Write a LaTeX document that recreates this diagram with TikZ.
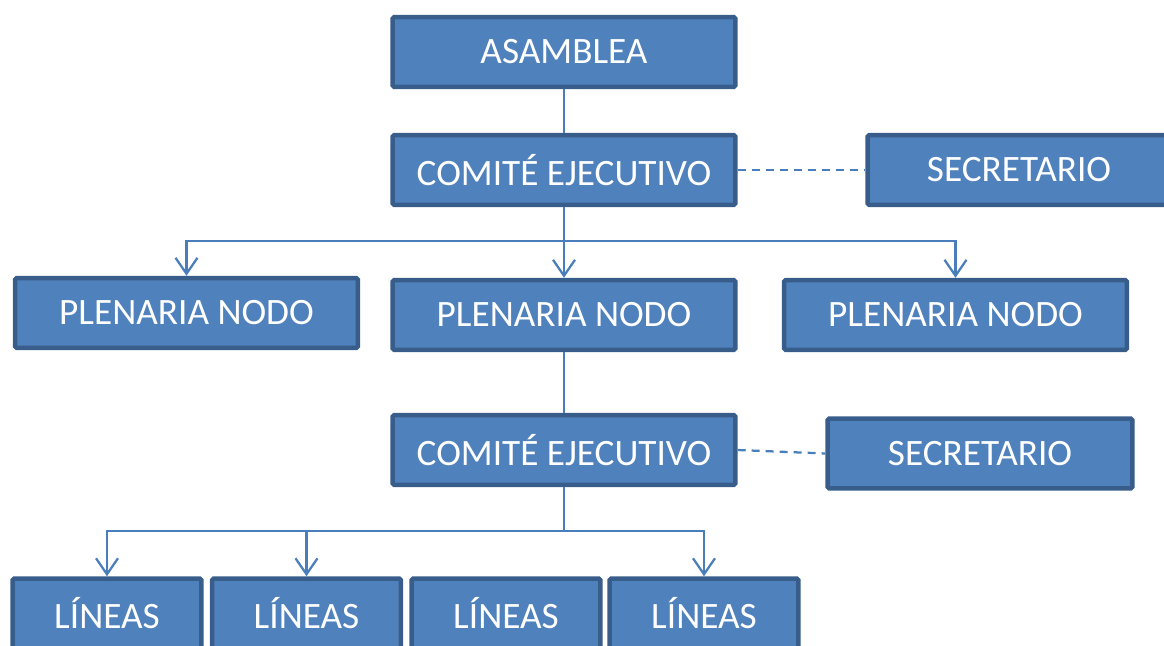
\documentclass[tikz,border=0pt]{standalone}
\usepackage{fontspec}
\setmainfont{Carlito}
\usetikzlibrary{arrows.meta}
\definecolor{boxfill}{HTML}{4F81BD}
\definecolor{boxline}{HTML}{385D8A}
\definecolor{linkline}{HTML}{4A7EBB}
\begin{document}
\begin{tikzpicture}[x=0.02cm,y=-0.02cm,
    orgbox/.style={draw=boxline,fill=boxfill,line width=0.09cm,rounded corners=1pt,
        text=white,font=\fontsize{21.2}{25}\selectfont,inner sep=0pt,
        minimum width=6.86cm,minimum height=1.40cm},
    secbox/.style={orgbox,minimum width=6.10cm},
    linbox/.style={orgbox,minimum width=3.78cm},
    link/.style={draw=linkline,line width=0.045cm},
    >={Straight Barb[length=0.32cm,width=0.44cm]}]
                \useasboundingbox (0,0) rectangle (1164,646);

                \node[orgbox] (asamblea) at (564,52) {ASAMBLEA};
                \node[orgbox] (comite1) at (564,170) {COMITÉ EJECUTIVO};
                \node[secbox,minimum width=6.06cm] (secre1) at (1019,170) {SECRETARIO};
                \node[orgbox] (plenL) at (186.5,313) {PLENARIA NODO};
                \node[orgbox] (plenM) at (564,315) {PLENARIA NODO};
                \node[orgbox] (plenR) at (955.5,315) {PLENARIA NODO};
                \node[orgbox] (comite2) at (564,450) {COMITÉ EJECUTIVO};
                \node[secbox] (secre2) at (980,453.5) {SECRETARIO};
                \node[linbox] (lin1) at (107,613.5) {LÍNEAS};
                \node[linbox] (lin2) at (306.5,613.5) {LÍNEAS};
                \node[linbox] (lin3) at (506,613.5) {LÍNEAS};
                \node[linbox] (lin4) at (704,613.5) {LÍNEAS};

                \coordinate (bus1) at (564,241);
                \coordinate (bus2) at (564,531);

                \draw[link] (asamblea) to (comite1);
                \draw[link,dash pattern=on 0.16cm off 0.12cm] (comite1.east) to (secre1.west);
                \draw[link,->] (comite1.south) to (plenM.north);
                \draw[link,->] (bus1) -| (plenL.north);
                \draw[link,->] (bus1) -| (plenR.north);
                \draw[link] (plenM) to (comite2);
                \draw[link,dash pattern=on 0.16cm off 0.12cm] (comite2.east) to (secre2.west);
                \draw[link] (comite2.south) to (bus2);
                \draw[link,->] (bus2) -| (lin1.north);
                \draw[link,->] (bus2) -| (lin2.north);
                \draw[link,->] (bus2) -| (lin4.north);
            \end{tikzpicture}
\end{document}
